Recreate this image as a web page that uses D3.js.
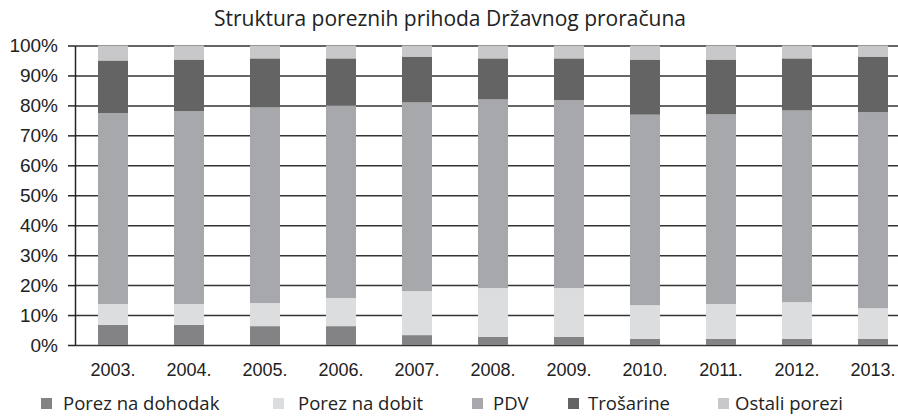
<!DOCTYPE html>
<html>
<head>
<meta charset="utf-8">
<script src="https://cdn.jsdelivr.net/npm/d3@7"></script>
<style>
  body { margin: 0; background: #fff; }
  svg { display: block; font-family: "Open Sans", sans-serif; }
  .axis path, .axis line { stroke: #262626; }
  .grid line { stroke: #333; stroke-width: 1.5; }
  .grid path { display: none; }
</style>
</head>
<body>
<div id="chart"></div>
<script>
var width = 898, height = 416;

var years = ["2003.", "2004.", "2005.", "2006.", "2007.", "2008.", "2009.", "2010.", "2011.", "2012.", "2013."];
var seriesNames = ["Porez na dohodak", "Porez na dobit", "PDV", "Trošarine", "Ostali porezi"];
var colors = ["#838385", "#dcdddf", "#a7a8ab", "#646464", "#c8c8ca"];

// shares in %
var dohodak   = [6.7, 6.7, 6.3, 6.3, 3.3, 2.7, 2.7, 2.0, 2.0, 2.0, 2.0];
var dobit     = [7.0, 7.0, 7.7, 9.4, 14.7, 16.3, 16.3, 11.3, 11.7, 12.3, 10.3];
var pdv       = [63.7, 64.4, 65.3, 64.3, 63.0, 63.0, 62.7, 63.6, 63.3, 64.0, 65.4];
var trosarine = [17.6, 17.2, 16.4, 15.7, 15.3, 13.7, 14.0, 18.4, 18.3, 17.4, 18.6];
var ostali    = [5.0, 4.7, 4.3, 4.3, 3.7, 4.3, 4.3, 4.7, 4.7, 4.3, 3.7];

var yTicks = [0, 10, 20, 30, 40, 50, 60, 70, 80, 90, 100];

var table = years.map(function(y, i) {
  return {year: y, s0: dohodak[i], s1: dobit[i], s2: pdv[i], s3: trosarine[i], s4: ostali[i]};
});
var keys = ["s0", "s1", "s2", "s3", "s4"];
var stacked = d3.stack().keys(keys)(table);

var plotLeft = 75, plotTop = 45.5, plotBottom = 345;

var x = d3.scaleBand()
  .domain(years)
  .range([plotLeft, plotLeft + 11 * 76])
  .paddingInner(0.605)
  .paddingOuter(0.3025);

var y = d3.scaleLinear().domain([0, 100]).range([plotBottom, plotTop]);

var svg = d3.select("#chart").append("svg")
  .attr("width", width)
  .attr("height", height);

// title
svg.append("text")
  .attr("x", 450)
  .attr("y", 26)
  .attr("text-anchor", "middle")
  .attr("font-size", 21)
  .attr("fill", "#222")
  .text("Struktura poreznih prihoda Državnog proračuna");

// grid lines
svg.append("g")
  .attr("class", "grid")
  .attr("transform", "translate(" + plotLeft + ",0)")
  .call(d3.axisRight(y).tickValues(yTicks).tickSize(width).tickFormat(""));

// bars
svg.selectAll("g.series")
  .data(stacked)
  .enter()
  .append("g")
  .attr("class", "series")
  .attr("fill", function(d, i) { return colors[i]; })
  .selectAll("rect")
  .data(function(d) { return d; })
  .enter()
  .append("rect")
  .attr("x", function(d) { return x(d.data.year); })
  .attr("width", x.bandwidth())
  .attr("y", function(d) { return y(d[1]); })
  .attr("height", function(d) { return y(d[0]) - y(d[1]); });

// y axis
var yAxis = svg.append("g")
  .attr("class", "axis")
  .attr("transform", "translate(" + plotLeft + ",0)")
  .call(d3.axisLeft(y).tickValues(yTicks).tickSize(7).tickPadding(10).tickSizeOuter(0)
    .tickFormat(function(d) { return d + "%"; }));
yAxis.selectAll("text").attr("font-size", 19).attr("fill", "#222");
yAxis.select("path").attr("stroke-width", 1.5);
yAxis.selectAll("line").attr("stroke-width", 1.5);

// x axis
var xAxis = svg.append("g")
  .attr("class", "axis")
  .attr("transform", "translate(0," + plotBottom + ")")
  .call(d3.axisBottom(x).tickSize(0).tickPadding(18));
xAxis.select("path").remove();
xAxis.selectAll("text").attr("font-size", 18).attr("fill", "#222");

// legend
var legendX = [41, 273, 472, 568, 718];
var legendTextX = [63, 298, 493, 588, 735];
var legend = svg.append("g").attr("class", "legend");
seriesNames.forEach(function(name, i) {
  legend.append("rect")
    .attr("x", legendX[i])
    .attr("y", 398)
    .attr("width", 11)
    .attr("height", 11)
    .attr("fill", colors[i]);
  legend.append("text")
    .attr("x", legendTextX[i])
    .attr("y", 410)
    .attr("font-size", 18.5)
    .attr("fill", "#222")
    .text(name);
});
</script>
</body>
</html>
